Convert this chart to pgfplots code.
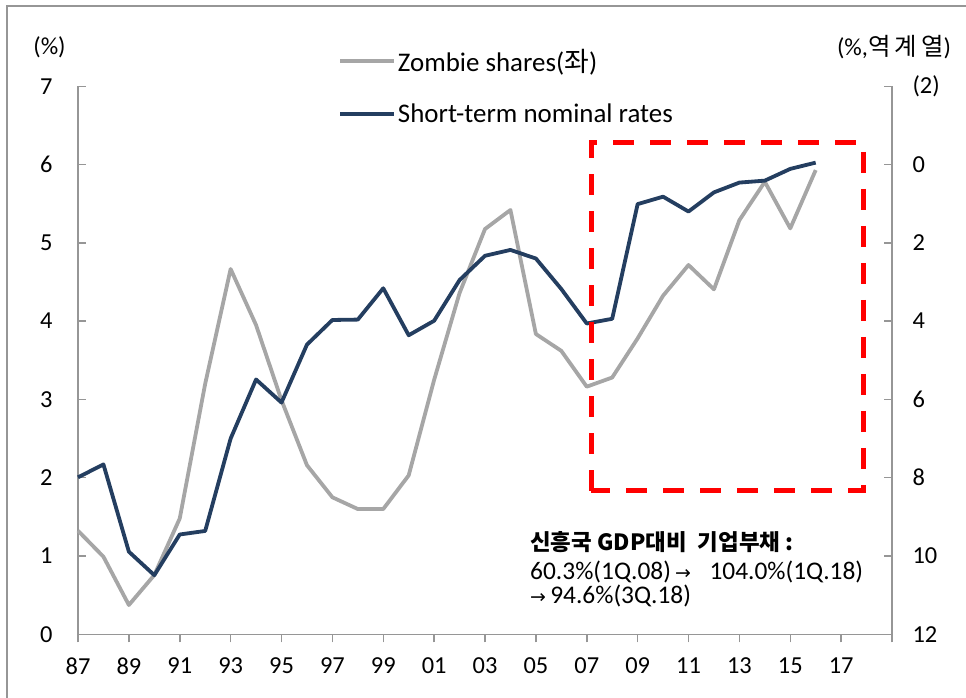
\documentclass[border=0pt]{standalone}
\usepackage{fontspec}
\setmainfont{Carlito}
\newfontfamily\cjk{Noto Sans CJK KR}
\newfontfamily\dejavu{DejaVu Sans}
\usepackage{pgfplots}
\pgfplotsset{compat=1.18}
\definecolor{zgray}{RGB}{166,166,166}
\definecolor{navy}{RGB}{36,62,96}
\definecolor{axgray}{RGB}{150,150,150}
\newcommand{\fs}{\fontsize{24.5}{29}\selectfont}
\newcommand{\fl}{\fontsize{27}{31}\selectfont}
\newcommand{\fa}{\fontsize{25.5}{30}\selectfont}
\pgfplotsset{common/.style={scale only axis, width=814bp, height=548bp,
  at={(78bp,63.7bp)}, anchor=south west, xmin=1987, xmax=2019,
  axis line style={axgray, line width=1.5bp, -},
  tick style={axgray, line width=1.5bp}, major tick length=8bp,
  ticklabel style={font=\fs}, clip=false,
  /pgf/number format/assume math mode=true}}
\begin{document}
\begin{tikzpicture}[x=1bp,y=1bp]
\useasboundingbox (0,0) rectangle (966,698);
\draw[axgray, line width=1.5bp] (7,-5) -- (7,692) -- (975,692);
% x axis
\begin{axis}[common, ymin=0, ymax=7, axis x line*=bottom, hide y axis,
  tick align=outside, xtick={1987,1989,...,2019},
  xticklabels={87,89,91,93,95,97,99,01,03,05,07,09,11,13,15,17,{}},
  xticklabel style={yshift=-12bp}]
\end{axis}
% left axis, zombie shares
\begin{axis}[common, ymin=0, ymax=7, hide x axis, axis y line*=left,
  tick align=inside, ytick={0,1,...,7},
  yticklabel style={anchor=east, xshift=-22bp}]
\addplot[zgray, line width=3.8bp, line join=round] coordinates {
(1987,1.323) (1988,0.991) (1989,0.374) (1990,0.757) (1991,1.48)
(1992,3.20) (1993,4.666) (1994,3.95) (1995,2.99) (1996,2.16)
(1997,1.75) (1998,1.60) (1999,1.60) (2000,2.03) (2001,3.25)
(2002,4.36) (2003,5.177) (2004,5.42) (2005,3.836) (2006,3.62)
(2007,3.163) (2008,3.28) (2009,3.78) (2010,4.325) (2011,4.717)
(2012,4.406) (2013,5.29) (2014,5.78) (2015,5.185) (2016,5.93)};
\end{axis}
% right axis, short-term nominal rates (reversed)
\begin{axis}[common, ymin=-2, ymax=12, y dir=reverse, hide x axis,
  axis y line*=right, tick align=inside, ytick={-2,0,...,12},
  yticklabels={(2),0,2,4,6,8,10,12},
  yticklabel style={anchor=west, xshift=17bp},
  legend style={draw=none, fill=none, at={(axis description cs:0.3194,0.999)},
    anchor=west, font=\fl, row sep=27bp, inner sep=0pt,
    nodes={inner sep=2bp}},
  legend cell align=left,
  legend image code/.code={\draw[#1] (0bp,0bp) -- (54bp,0bp);}]
\addlegendimage{zgray, line width=3.8bp}
\addlegendentry{Zombie shares({\cjk 좌})}
\addplot[navy, line width=3.8bp, line join=round] coordinates {
(1987,7.99) (1988,7.66) (1989,9.89) (1990,10.49) (1991,9.45)
(1992,9.36) (1993,7.00) (1994,5.49) (1995,6.08) (1996,4.60)
(1997,3.97) (1998,3.96) (1999,3.16) (2000,4.36) (2001,3.99)
(2002,2.95) (2003,2.33) (2004,2.18) (2005,2.40) (2006,3.18)
(2007,4.06) (2008,3.94) (2009,1.01) (2010,0.82) (2011,1.20)
(2012,0.71) (2013,0.46) (2014,0.41) (2015,0.11) (2016,-0.05)};
\addlegendentry{Short-term nominal rates}
\draw[red, line width=5bp, dash pattern=on 21bp off 16bp]
  (axis cs:2007.17,8.33) rectangle (axis cs:2017.86,-0.56);
\node[anchor=base west, inner sep=0pt, font=\cjk\bfseries\fontsize{22.5}{26}\selectfont]
  at (axis cs:2004.77,9.85) {신흥국 GDP대비\hspace{0.5em}기업부채 :};
\node[anchor=base west, inner sep=0pt, font=\fa]
  at (axis cs:2004.77,10.59) {60.3\%(1Q.08)\,{\dejavu\fontsize{19}{22}\selectfont →}\hspace{0.5em} 104.0\%(1Q.18)};
\node[anchor=base west, inner sep=0pt, font=\fa]
  at (axis cs:2004.77,11.21) {{\dejavu\fontsize{19}{22}\selectfont →}\,94.6\%(3Q.18)};
\end{axis}
\node[font=\fs] at (49.5,650.5) {(\%)};
\node[font=\fs] at (894,650.5) {(\%,{\cjk 역\,계\,열})};
\end{tikzpicture}
\end{document}
